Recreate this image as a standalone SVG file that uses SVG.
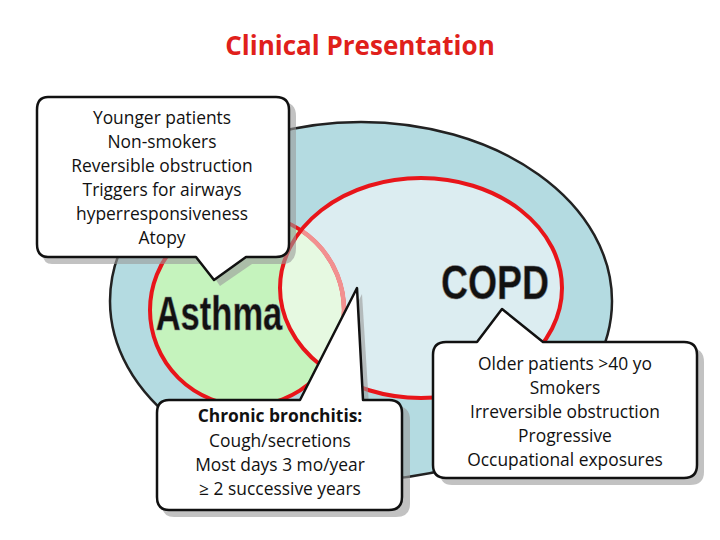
<svg xmlns="http://www.w3.org/2000/svg" width="720" height="540" viewBox="0 0 720 540">
<style>
.t{font-family:"Open Sans","Liberation Sans",sans-serif;font-size:17.4px;fill:#111;text-anchor:middle}
.big{font-family:"Liberation Sans",sans-serif;font-weight:bold;font-size:48px;fill:#111;text-anchor:middle;stroke:#888;stroke-width:0.6}
.box{fill:#fff;stroke:#111;stroke-width:2.5;stroke-linejoin:round}
.sh{fill:#999;opacity:0.6}
</style>
<defs>
<clipPath id="cp"><ellipse cx="421" cy="288" rx="141" ry="110"/></clipPath>
</defs>
<rect width="720" height="540" fill="#fff"/>
<text x="360" y="55" font-family="Open Sans, Liberation Sans, sans-serif" font-weight="bold" font-size="26" fill="#e0201b" text-anchor="middle">Clinical Presentation</text>
<g id="outer"><ellipse cx="361" cy="301" rx="251" ry="179" fill="#b4dbe1" stroke="#222" stroke-width="2.5"/></g>
<g id="asthma">
<ellipse cx="247" cy="310" rx="97" ry="96" fill="#c5f3bd"/>
</g>
<g id="copd">
<ellipse cx="421" cy="288" rx="141" ry="110" fill="#dcedf1"/>
<ellipse cx="247" cy="310" rx="97" ry="96" fill="#e6f9e1" clip-path="url(#cp)"/>
<ellipse cx="247" cy="310" rx="97" ry="96" fill="none" stroke="#e8151a" stroke-width="4"/>
<ellipse cx="247" cy="310" rx="97" ry="96" fill="none" stroke="#f29090" stroke-width="4.5" clip-path="url(#cp)"/>
<ellipse cx="421" cy="288" rx="141" ry="110" fill="none" stroke="#e8151a" stroke-width="4"/>
<text class="big" x="219" y="330" transform="translate(219 330) scale(0.72 1) translate(-219 -330)">Asthma</text>
<text class="big" x="495" y="299" transform="translate(495 299) scale(0.78 1) translate(-495 -299)">COPD</text>
</g>
<g id="callout-asthma">
<path class="sh" d="M52 102 H282 Q296 102 296 116 V248 Q296 264 282 264 H252 L220 286 L205 264 H52 Q42 264 42 250 V116 Q42 102 52 102 Z"/>
<path class="box" d="M48 97 H276 Q289 97 289 110 V244 Q289 257 276 257 H246 L214 280 L196 257 H48 Q37 257 37 244 V110 Q37 97 48 97 Z"/>
<text class="t" x="162" y="124">Younger patients</text>
<text class="t" x="162" y="148">Non-smokers</text>
<text class="t" x="162" y="172">Reversible obstruction</text>
<text class="t" x="162" y="196">Triggers for airways</text>
<text class="t" x="162" y="220">hyperresponsiveness</text>
<text class="t" x="162" y="244">Atopy</text>
</g>
<g id="callout-bronchitis">
<path class="sh" d="M174 406 H306 L362 294 L369 406 H396 Q410 406 410 420 V504 Q410 517 396 517 H174 Q162 517 162 504 V420 Q162 406 174 406 Z"/>
<path class="box" d="M169 400 H300 L357 288 L363 400 H389 Q402 400 402 413 V497 Q402 510 389 510 H169 Q157 510 157 497 V413 Q157 400 169 400 Z"/>
<text class="t" x="280" y="422" font-weight="bold">Chronic bronchitis:</text>
<text class="t" x="280" y="447">Cough/secretions</text>
<text class="t" x="280" y="471">Most days 3 mo/year</text>
<text class="t" x="280" y="495">≥ 2 successive years</text>
</g>
<g id="callout-copd">
<path class="sh" d="M452 348 H482 L507 315 L548 348 H690 Q704 348 704 362 V472 Q704 485 690 485 H452 Q440 485 440 472 V362 Q440 348 452 348 Z"/>
<path class="box" d="M446 342 H477 L502 309 L543 342 H684 Q697 342 697 355 V465 Q697 478 684 478 H446 Q433 478 433 465 V355 Q433 342 446 342 Z"/>
<text class="t" x="565" y="370">Older patients &gt;40 yo</text>
<text class="t" x="565" y="394">Smokers</text>
<text class="t" x="565" y="418">Irreversible obstruction</text>
<text class="t" x="565" y="442">Progressive</text>
<text class="t" x="565" y="466">Occupational exposures</text>
</g>
</svg>
